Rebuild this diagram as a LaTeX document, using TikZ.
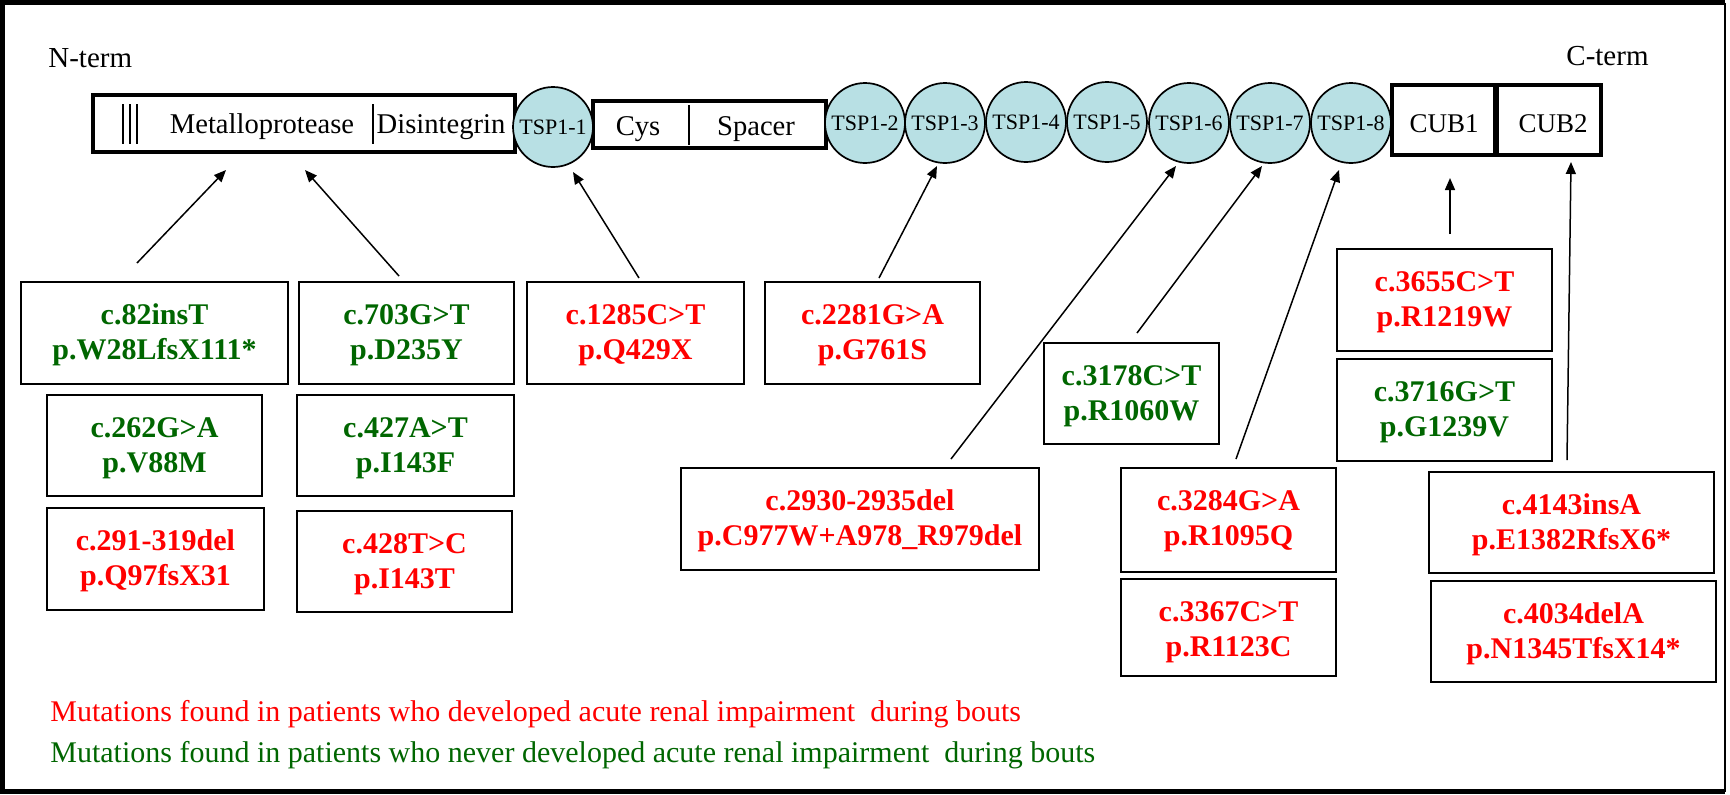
\documentclass[tikz,border=0pt]{standalone}
\usepackage{fontspec}
\setmainfont{Liberation Serif}
\usetikzlibrary{arrows.meta,fit}
\definecolor{mred}{RGB}{255,0,0}
\definecolor{mgreen}{RGB}{0,102,0}
\definecolor{tspfill}{RGB}{184,224,228}
% #1 name, #2 x1, #3 y1, #4 x2, #5 y2, #6 colour, #7 line 1, #8 line 2
\newcommand{\mutbox}[8]{%
  \node[mbx, fit={(#2,#3) (#4,#5)}] (#1) {};
  \node[mtx, text=#6] (#1a) at ([yshift=-21.5pt]#1.north) {#7};
  \node[mtx, text=#6] (#1b) at ([yshift=-39pt]#1.north) {#8};
}
\begin{document}
\begin{tikzpicture}[x=0.5pt,y=-0.5pt,
  dom/.style={draw, line width=1.8pt, inner sep=0pt},
  tsp/.style={circle, draw, line width=0.85pt, fill=tspfill, minimum size=40pt, inner sep=0pt, font=\fontsize{11}{13}\selectfont},
  mbx/.style={draw, line width=0.85pt, inner sep=0pt},
  mtx/.style={anchor=base, inner sep=0pt, font=\fontsize{15}{17.5}\selectfont\bfseries},
  arr/.style={line width=0.75pt, -{Triangle[length=6pt,width=5pt]}},
  lbl/.style={font=\fontsize{14.3}{16}\selectfont, inner sep=0pt},
  term/.style={font=\fontsize{14.5}{16}\selectfont, inner sep=0pt, anchor=base west},
  cub/.style={font=\fontsize{13.5}{15}\selectfont, inner sep=0pt},
  legend/.style={font=\fontsize{15}{18}\selectfont, inner sep=0pt, anchor=base west},
]
\useasboundingbox (0,0) rectangle (1730,794);
% frame
\draw[line width=2.5pt] (1725,2.5) -- (2.5,2.5) -- (2.5,791.5) -- (1725,791.5);
\draw[line width=0.8pt] (1725,2.5) -- (1725,791.5);

% termini
\node[term] (nterm) at (48,67) {N-term};
\node[term] (cterm) at (1566,65) {C-term};

% domain bar
\node[dom, fit={(93,95) (515,152)}] (metal) {};
\draw[line width=0.75pt] (123,104) -- (123,144) (130,104) -- (130,144) (137,104) -- (137,144);
\draw[line width=1pt] (373,104) -- (373,144);
\node[lbl, anchor=base] (metaltxt) at (262,133) {Metalloprotease};
\node[lbl, anchor=base] (distxt) at (441,133) {Disintegrin};

\node[dom, fit={(593,101) (826,148)}] (cys) {};
\draw[line width=1pt] (689,105) -- (689,145);
\node[lbl, anchor=base] (cystxt) at (638,135) {Cys};
\node[lbl, anchor=base] (spatxt) at (756,135) {Spacer};

\node[tsp] (t1) at (553,127) {TSP1-1};
\node[tsp] (t2) at (865,123) {TSP1-2};
\node[tsp] (t3) at (945,123) {TSP1-3};
\node[tsp] (t4) at (1026,122) {TSP1-4};
\node[tsp] (t5) at (1107,122) {TSP1-5};
\node[tsp] (t6) at (1189,123) {TSP1-6};
\node[tsp] (t7) at (1270,123) {TSP1-7};
\node[tsp] (t8) at (1351,123) {TSP1-8};

\node[dom, fit={(1392,85) (1495,155)}] (cub1) {};
\node[dom, fit={(1497,85) (1601,155)}] (cub2) {};
\node[cub] (cub1txt) at (1444,124) {CUB1};
\node[cub] (cub2txt) at (1553,124) {CUB2};

% mutation boxes
\mutbox{m1}{21}{282}{288}{384}{mgreen}{c.82insT}{p.W28LfsX111*}
\mutbox{m2}{299}{282}{514}{384}{mgreen}{c.703G>T}{p.D235Y}
\mutbox{m3}{47}{395}{262}{496}{mgreen}{c.262G>A}{p.V88M}
\mutbox{m4}{297}{395}{514}{496}{mgreen}{c.427A>T}{p.I143F}
\mutbox{m5}{47}{508}{264}{610}{mred}{c.291-319del}{p.Q97fsX31}
\mutbox{m6}{297}{511}{512}{612}{mred}{c.428T>C}{p.I143T}
\mutbox{m7}{527}{282}{744}{384}{mred}{c.1285C>T}{p.Q429X}
\mutbox{m8}{765}{282}{980}{384}{mred}{c.2281G>A}{p.G761S}
\mutbox{m9}{681}{468}{1039}{570}{mred}{c.2930-2935del}{p.C977W+A978\_R979del}
\mutbox{m10}{1044}{343}{1219}{444}{mgreen}{c.3178C>T}{p.R1060W}
\mutbox{m11}{1121}{468}{1336}{572}{mred}{c.3284G>A}{p.R1095Q}
\mutbox{m12}{1121}{579}{1336}{676}{mred}{c.3367C>T}{p.R1123C}
\mutbox{m13}{1337}{249}{1552}{351}{mred}{c.3655C>T}{p.R1219W}
\mutbox{m14}{1337}{359}{1552}{461}{mgreen}{c.3716G>T}{p.G1239V}
\mutbox{m15}{1429}{472}{1714}{573}{mred}{c.4143insA}{p.E1382RfsX6*}
\mutbox{m16}{1431}{581}{1716}{682}{mred}{c.4034delA}{p.N1345TfsX14*}

% arrows
\coordinate (s1) at (137,263);  \coordinate (e1) at (226,170);
\coordinate (s2) at (399,276);  \coordinate (e2) at (305,170);
\coordinate (s3) at (639,278);  \coordinate (e3) at (573,172);
\coordinate (s4) at (879,278);  \coordinate (e4) at (937,166);
\coordinate (s5) at (951,459);  \coordinate (e5) at (1176,166);
\coordinate (s6) at (1137,333); \coordinate (e6) at (1262,166);
\coordinate (s7) at (1236,459); \coordinate (e7) at (1339,170);
\coordinate (s8) at (1450,234); \coordinate (e8) at (1450,178);
\coordinate (s9) at (1567,460); \coordinate (e9) at (1571,162);
\foreach \i in {1,...,9} {\draw[arr] (s\i) -- (e\i);}

% legend
\node[legend, text=mred] (leg1) at (50,721) {Mutations found in patients who developed acute renal impairment \ during bouts};
\node[legend, text=mgreen] (leg2) at (50,762) {Mutations found in patients who never developed acute renal impairment \ during bouts};
\end{tikzpicture}
\end{document}
